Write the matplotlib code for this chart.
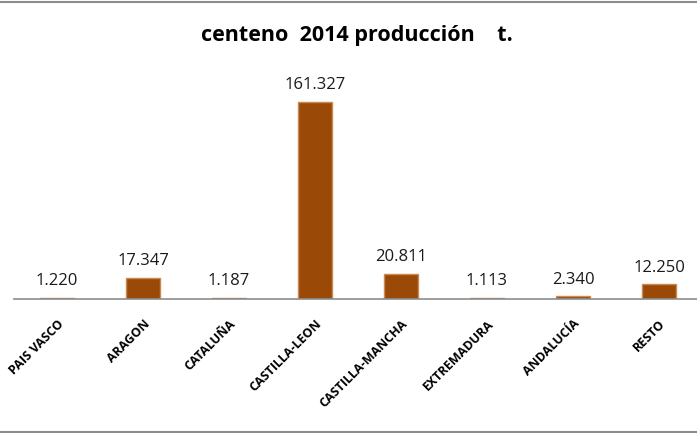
import matplotlib.pyplot as plt
from matplotlib.lines import Line2D

regiones = ["PAIS VASCO", "ARAGON", "CATALUÑA", "CASTILLA-LEON",
            "CASTILLA-MANCHA", "EXTREMADURA", "ANDALUCÍA", "RESTO"]
produccion = [1220, 17347, 1187, 161327, 20811, 1113, 2340, 12250]
etiquetas = ["1.220", "17.347", "1.187", "161.327", "20.811", "1.113", "2.340", "12.250"]

plt.rcParams['font.family'] = ['Open Sans', 'DejaVu Sans']

W, H = 697, 433
fig = plt.figure(figsize=(W / 100, H / 100), dpi=100)
ax = fig.add_axes([14 / W, (H - 299) / H, 688 / W, 220 / H])

x = range(len(regiones))
ax.bar(x, produccion, width=0.395, color="#9A4A06", edgecolor="#C98A55", linewidth=1.0)

for i, (v, t) in enumerate(zip(produccion, etiquetas)):
    ax.annotate(t, (i, v), xytext=(0, 6), textcoords="offset points",
                ha="center", va="bottom", fontsize=12, color="#1a1a1a")

ax.set_xlim(-0.5, len(regiones) - 0.5)
ax.set_ylim(0, 180000)
ax.set_yticks([])
ax.set_xticks(list(x))
ax.set_xticklabels(regiones, rotation=45, ha="right", rotation_mode="anchor",
                   fontsize=9, fontweight="bold")
ax.tick_params(axis="x", length=0, pad=13)
for s in ["top", "right", "left"]:
    ax.spines[s].set_visible(False)
ax.spines["bottom"].set_color("#8C8C8C")
ax.spines["bottom"].set_linewidth(1.2)

fig.text(357 / W, 1 - 35 / H, "centeno  2014 producción    t.", ha="center", va="center",
         fontsize=15.5, fontweight="bold")

# marco del gráfico
fig.add_artist(Line2D([0, 1], [1 - 1.5 / H, 1 - 1.5 / H], color="#8C8C8C", lw=1.5))
fig.add_artist(Line2D([0, 1], [1.5 / H, 1.5 / H], color="#8C8C8C", lw=1.5))

plt.savefig("out.png", dpi=100)
